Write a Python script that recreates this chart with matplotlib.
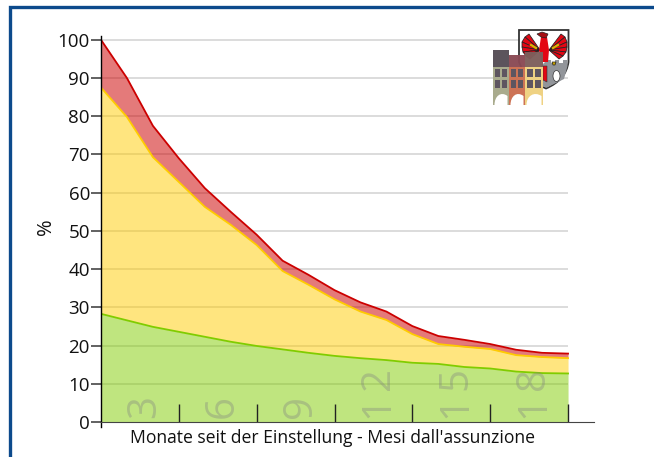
import numpy as np
import matplotlib
matplotlib.use('Agg')
import matplotlib.pyplot as plt
from matplotlib.patches import Polygon, Rectangle, Ellipse, PathPatch
from matplotlib.path import Path

plt.rcParams['font.family'] = ['Open Sans', 'DejaVu Sans']

# monthly values
months = list(range(19))
red_line = [100, 90, 77.5, 69, 61.2, 55, 49, 42.2, 38.5, 34.5, 31.3, 28.9, 25.1, 22.5, 21.5, 20.4, 18.9, 18.1, 17.9]
yellow_line = [87.5, 79.8, 69.3, 62.8, 56.3, 51.6, 46.3, 39.5, 35.9, 32.1, 28.9, 26.7, 23, 20.4, 19.7, 19.1, 17.5, 17, 16.7]
green_line = [28.3, 26.6, 24.9, 23.6, 22.3, 21, 19.9, 19, 18.1, 17.3, 16.7, 16.2, 15.5, 15.2, 14.4, 14, 13.2, 12.8, 12.7]
y_ticks = list(range(0, 101, 10))
x_ticks = [3, 6, 9, 12, 15, 18]
x_label = "Monate seit der Einstellung - Mesi dall'assunzione"

W, H = 654, 457
fig = plt.figure(figsize=(W / 100, H / 100), dpi=100)
ax = fig.add_axes([101 / W, (H - 426.6) / H, (594 - 101) / W, (426.6 - 36) / H])
ax.set_xlim(0, 19)
ax.set_ylim(-1.2, 101)

# grid stops at the last month, the axis goes on
ax.hlines(y_ticks[1:], 0, 18, color='#d6d6d6', lw=1.2, zorder=0.5)

zeros = np.zeros(len(months))
ax.fill_between(months, zeros, green_line, color='#80cc00', alpha=0.5, lw=0, zorder=1)
ax.fill_between(months, green_line, yellow_line, color='#ffcc00', alpha=0.5, lw=0, zorder=1)
ax.fill_between(months, yellow_line, red_line, color='#cc0000', alpha=0.52, lw=0, zorder=1)
ax.plot(months, green_line, color='#80cc00', lw=1.3, zorder=2)
ax.plot(months, yellow_line, color='#ffcc00', lw=1.3, zorder=2)
ax.plot(months, red_line, color='#cc0000', lw=1.3, zorder=2.1)

# the big grey month numbers sit between the ticks, turned on their side
for m in x_ticks:
    for i, ch in enumerate(str(m)):
        ax.annotate(ch, xy=(m - 1.31, 0), xytext=(0, 3 + i * 20), textcoords='offset points',
                    rotation=90, ha='center', va='bottom', fontsize=29,
                    color='#808080', alpha=0.36, zorder=3)

ax.set_xticks(x_ticks)
ax.set_xticklabels([])
ax.tick_params(axis='x', direction='in', length=13, width=1, color='#222222')
ax.set_yticks(y_ticks)
ax.tick_params(axis='y', direction='out', length=7, width=1.3, color='#555555', labelsize=13.5,
               labelcolor='#111111', pad=1)

for side in ['top', 'right']:
    ax.spines[side].set_visible(False)
ax.spines['bottom'].set_position(('data', 0))
ax.spines['bottom'].set_color('#444444')
ax.spines['left'].set_linewidth(1)

fig.text(46 / W, 1 - 227 / H, '%', rotation=90, ha='center', va='center', fontsize=14.5, color='#111111')
fig.text(333 / W, 1 - 438 / H, x_label, ha='center', va='center', fontsize=12.65, color='#111111')

# overlay in pixel units for the page frame and the logo
ov = fig.add_axes([0, 0, 1, 1], zorder=5)
ov.set_xlim(0, W)
ov.set_ylim(H, 0)
ov.axis('off')
ov.plot([W, 9.5, 9.5], [6.5, 6.5, H], color='#0c4a8c', lw=2.4, solid_joinstyle='miter')

# coat of arms
shield = Path([(519, 30), (568.5, 30), (568.5, 62), (566, 80), (546, 88.5), (526, 80), (519, 62), (519, 30)],
              [Path.MOVETO, Path.LINETO, Path.LINETO, Path.CURVE3, Path.CURVE3, Path.CURVE3, Path.CURVE3, Path.CLOSEPOLY])
ov.add_patch(PathPatch(shield, fc='white', ec='#333333', lw=1.3))
# grey tower with battlements and gate
ov.add_patch(Polygon([(547, 60), (551, 60), (551, 63), (555, 63), (555, 60), (559, 60), (559, 63), (563, 63),
                      (563, 60), (567.5, 60), (567.5, 66), (564, 79), (547, 87.5), (541, 86), (541, 66)],
                     fc='#92959a', ec='none'))
ov.add_patch(Ellipse((556.5, 76), 7, 11, fc='white', ec='#333333', lw=0.5))
# eagle: fan of feathers on each side, body and head in the middle
left_tips = [(529, 34), (525, 37), (522, 42), (522, 47), (523, 52), (526, 56), (530, 59)]
right_tips = [(561, 34), (565, 37), (567, 42), (567, 47), (566, 52), (563, 56), (559, 59)]
for root, tips in (((540, 50), left_tips), ((549, 50), right_tips)):
    for a, b in zip(tips[:-1], tips[1:]):
        ov.add_patch(Polygon([root, a, b], fc='#e30613', ec='#222222', lw=0.55))
ov.add_patch(Polygon([(541, 37), (547, 37), (549, 50), (548, 62), (541, 62), (539, 50)], fc='#e30613', ec='none'))
ov.add_patch(Polygon([(537, 34), (542, 32), (548, 34), (546, 38), (541, 37)], fc='#a50d12', ec='#222222', lw=0.5))
ov.plot([531, 536], [45, 48], color='#d8b400', lw=1.6)
ov.plot([558, 553], [45, 48], color='#d8b400', lw=1.6)
ov.add_patch(Polygon([(552, 62), (556, 62), (555, 65), (553, 65)], fc='#c9a400', ec='#222222', lw=0.5))
ov.add_patch(Polygon([(543, 66), (547, 66), (547, 82), (543, 80)], fc='#e30613', ec='#333333', lw=0.4))

# three houses on top of the shield
houses = [(493, 509, 50, '#574e57', '#a9ab8d'), (509, 525, 55, '#8a4a55', '#cd7355'), (525, 543, 52, '#7e5f5c', '#efd283')]
for x0, x1, top, roof, body in houses:
    ov.add_patch(Rectangle((x0, top), x1 - x0, 67 - top, fc=roof, ec='none', alpha=0.97))
    ov.add_patch(Rectangle((x0, 67), x1 - x0, 38, fc=body, ec='none'))
    w = (x1 - x0 - 5) / 2 - 0.5
    for wx in (x0 + 2, x1 - 2 - w):
        for wy in (69, 80):
            ov.add_patch(Rectangle((wx, wy), w, 8, fc='#5e5560', ec='none'))
    cx = (x0 + x1) / 2
    r = (x1 - x0) / 2 - 1.5
    ov.add_patch(PathPatch(Path([(cx - r, 105), (cx - r, 96), (cx, 91), (cx + r, 96), (cx + r, 105), (cx - r, 105)],
                                [Path.MOVETO, Path.CURVE4, Path.CURVE4, Path.CURVE4, Path.LINETO, Path.CLOSEPOLY]),
                           fc='white', ec='none'))

plt.savefig('out.png', dpi=100)
